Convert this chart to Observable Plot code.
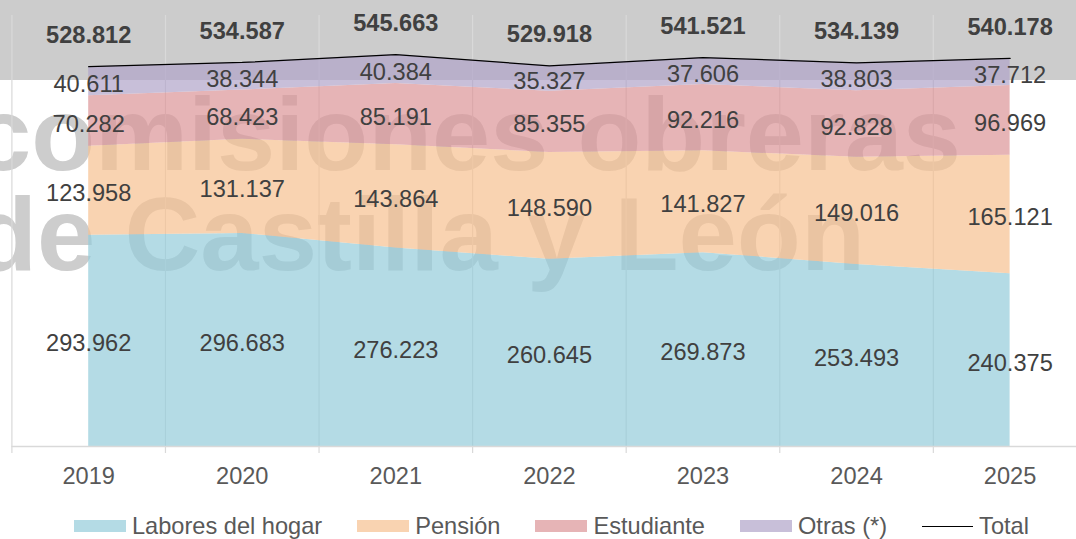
<!DOCTYPE html>
<html><head><meta charset="utf-8">
<script src="https://cdn.jsdelivr.net/npm/d3@7"></script>
<script src="https://cdn.jsdelivr.net/npm/@observablehq/plot@0.6"></script>
<style>
html,body{margin:0;padding:0;background:#fff;overflow:hidden;width:1076px;height:539px}
#chart svg{display:block}
.legend{position:relative;height:34px;margin-top:4px;font-family:Arial,"Liberation Sans",sans-serif;font-size:23.6px;color:#595959}
.legend .row{position:absolute;left:74px;top:0;height:34px;display:flex;align-items:center;gap:35px;white-space:nowrap}
.item{display:flex;align-items:center}
.sw{width:52px;height:12.5px;margin-right:6px}
.ln{width:51px;height:0;border-top:1.3px solid #000;margin-right:6px}
</style></head><body>
<div id="chart"></div>
<div class="legend"><div class="row" id="legend"></div></div>
<script>
const years = [2019, 2020, 2021, 2022, 2023, 2024, 2025];
const categories = ["Labores del hogar", "Pensión", "Estudiante", "Otras (*)"];
const labores = [293962, 296683, 276223, 260645, 269873, 253493, 240375];
const pension = [123958, 131137, 143864, 148590, 141827, 149016, 165121];
const estudiante = [70282, 68423, 85191, 85355, 92216, 92828, 96969];
const otras = [40611, 38344, 40384, 35327, 37606, 38803, 37712];
const totals = [528812, 534587, 545663, 529918, 541521, 534139, 540178];
const colors = ["#94ccda", "#f6c090", "#db9497", "#b0a4c9"];
const totalLabel = "Total";

const series = [labores, pension, estudiante, otras];
const data = categories.flatMap((c, i) => years.map((y, j) => ({year: y, cat: c, value: series[i][j]})));
const tot = years.map((y, j) => ({year: y, total: totals[j]}));
const boundaries = years.map(y => y - 0.5).concat([years[years.length - 1] + 0.5]);

const locale = d3.formatLocale({decimal: ",", thousands: ".", grouping: [3], currency: ["", "€"]});
const fmt = locale.format(",d");
const FS = 23.6;

const svg = Plot.plot({
  width: 1076,
  height: 505,
  marginTop: 15,
  marginBottom: 52,
  marginLeft: 11.4,
  marginRight: 0,
  style: {fontFamily: "Arial, 'Liberation Sans', sans-serif", fontSize: FS + "px", color: "#595959", background: "transparent", overflow: "visible"},
  x: {domain: [2018.5, 2025.5], range: [11.4, 1086.4], ticks: years, tickSize: 0, tickPadding: 14, tickFormat: d => String(d), label: null},
  y: {domain: [0, 600000], range: [446, 15], axis: null},
  color: {domain: categories, range: colors},
  marks: [
    Plot.ruleX(boundaries, {stroke: "#d9d9d9", strokeWidth: 1.2}),
    Plot.areaY(data, {x: "year", y: "value", z: "cat", fill: "cat", fillOpacity: 0.7, order: categories}),
    Plot.ruleY([0], {stroke: "#d9d9d9", strokeWidth: 1.5}),
    Plot.line(tot, {x: "year", y: "total", stroke: "#000", strokeWidth: 1.25}),
    Plot.text(data, Plot.stackY({x: "year", y: "value", z: "cat", order: categories, text: d => fmt(d.value), fill: "#404040", fontSize: FS, dy: 3})),
    Plot.text(tot, {x: "year", y: "total", text: d => fmt(d.total), fontWeight: "bold", fill: "#404040", fontSize: FS, dy: -31})
  ]
});

// background band and watermark (decoration, behind the marks)
const g = d3.select(svg).insert("g", ":first-child").attr("text-anchor", "start");
g.append("rect").attr("x", 0).attr("y", 0).attr("width", 1076).attr("height", 80).attr("fill", "#cccccc");
const wm = [["comisiones obreras", 170, 988], ["de Castilla y León", 270, 892]];
for (const [t, yy, len] of wm) {
  g.append("text").attr("x", -27).attr("y", yy)
    .attr("text-anchor", "start")
    .attr("font-size", 104).attr("font-weight", "bold")
    .attr("font-family", "Arial, 'Liberation Sans', sans-serif")
    .attr("fill", "#cdcdcd")
    .attr("textLength", len).attr("lengthAdjust", "spacingAndGlyphs")
    .text(t);
}
document.getElementById("chart").appendChild(svg);

// legend
const leg = d3.select("#legend");
categories.forEach((c, i) => {
  const it = leg.append("div").attr("class", "item");
  it.append("div").attr("class", "sw").style("background", colors[i]).style("opacity", 0.7);
  it.append("span").text(c);
});
const it = leg.append("div").attr("class", "item");
it.append("div").attr("class", "ln");
it.append("span").text(totalLabel);
</script>
</body></html>
